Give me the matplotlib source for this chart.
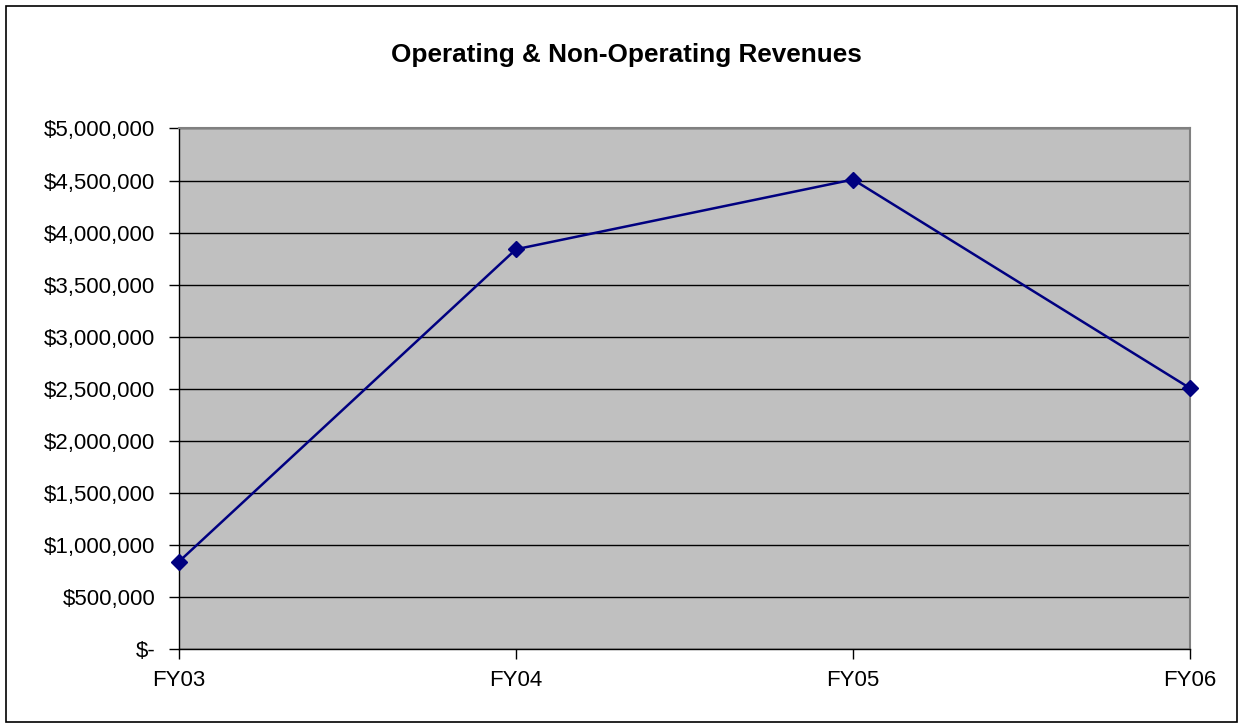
import matplotlib
matplotlib.use("Agg")
import matplotlib.pyplot as plt
from matplotlib.patches import Rectangle
from matplotlib.ticker import FuncFormatter

# Chart data
years = ["FY03", "FY04", "FY05", "FY06"]
revenues = [840000, 3840000, 4510000, 2505000]
y_ticks = list(range(0, 5000001, 500000))

plt.rcParams['font.family'] = ['Liberation Sans', 'DejaVu Sans']


def money(v, pos):
    if v == 0:
        return "$-"
    return "${:,.0f}".format(v)


fig = plt.figure(figsize=(12.43, 7.28), dpi=100)
ax = fig.add_axes([0.144, 0.1085, 0.8134, 0.715])

# outer frame of the chart
fig.patches.append(Rectangle((6 / 1243, 6 / 728), 1231 / 1243, 716 / 728,
                             transform=fig.transFigure, fill=False,
                             edgecolor='black', linewidth=1.2))

ax.set_facecolor('#c0c0c0')
x = list(range(len(years)))
ax.plot(x, revenues, color='#000080', linewidth=1.8, marker='D',
        markersize=8.5, markerfacecolor='#000080', markeredgecolor='#000080',
        zorder=3, clip_on=False)

ax.set_xlim(0, len(years) - 1)
ax.set_ylim(0, 5000000)
ax.set_xticks(x)
ax.set_xticklabels(years)
ax.set_yticks(y_ticks)
ax.yaxis.set_major_formatter(FuncFormatter(money))
ax.grid(axis='y', color='black', linewidth=1)
ax.set_axisbelow(True)

ax.tick_params(axis='both', labelsize=16, length=7, width=1, color='black')
ax.tick_params(axis='x', pad=8)
ax.tick_params(axis='y', pad=10)

for side in ['top', 'right']:
    ax.spines[side].set_color('#808080')
    ax.spines[side].set_linewidth(1.5)
for side in ['left', 'bottom']:
    ax.spines[side].set_color('black')
    ax.spines[side].set_linewidth(1)

fig.text(626 / 1243, 1 - 55 / 728, "Operating & Non-Operating Revenues",
         ha='center', va='center', fontsize=18.8, fontweight='bold')

fig.savefig("out.png", dpi=100)
